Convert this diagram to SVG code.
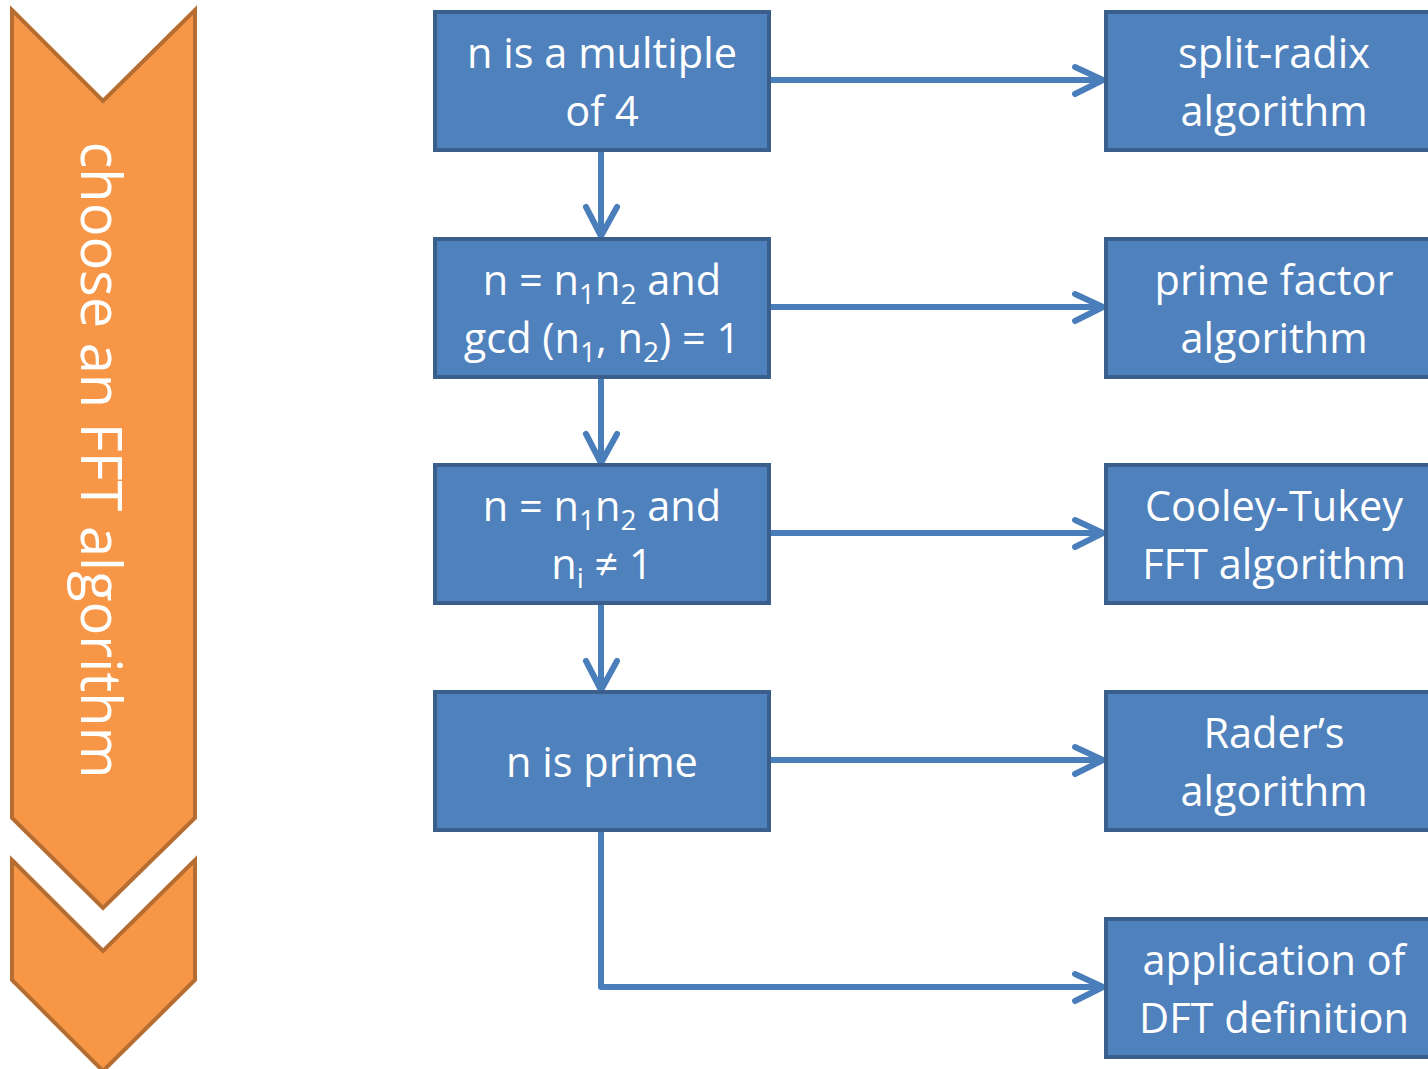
<svg xmlns="http://www.w3.org/2000/svg" width="1428" height="1069" viewBox="0 0 1428 1069">
<defs>
<style>
.box{fill:#4F81BD;stroke:#3A5F8C;stroke-width:4}
.t{font-family:"Open Sans","Noto Sans",sans-serif;font-size:41.5px;fill:#fff;text-anchor:middle}
.sub{font-size:28px}
.c{fill:none;stroke:#4A7EBB;stroke-width:6;stroke-linecap:round;stroke-linejoin:round}
.chev{fill:#F79646;stroke:#B66D31;stroke-width:4}
</style>
</defs>
<rect width="1428" height="1069" fill="#fff"/>
<g id="chevron">
<polygon class="chev" points="12,10 103,101 195,10 195,818 103,908 12,818"/>
<polygon class="chev" points="12,860 103,951 195,860 195,980 103,1071 12,980"/>
<text class="t" style="font-size:56px" transform="translate(100,460) rotate(90)" y="19">choose an FFT algorithm</text>
</g>
<g id="connectors">
<path class="c" d="M770,80 H1103 M1075,67 L1103,80 L1075,94"/>
<path class="c" d="M770,307 H1103 M1075,294 L1103,307 L1075,321"/>
<path class="c" d="M770,533 H1103 M1075,520 L1103,533 L1075,547"/>
<path class="c" d="M770,760 H1103 M1075,747 L1103,760 L1075,774"/>
<path class="c" d="M601,830 V987 H1103 M1075,974 L1103,987 L1075,1001"/>
<path class="c" d="M601,150 V236 M586,207 L601,236 L617,207"/>
<path class="c" d="M601,377 V463 M586,434 L601,463 L617,434"/>
<path class="c" d="M601,603 V690 M586,661 L601,690 L617,661"/>
</g>
<g id="n1">
<rect class="box" x="435" y="12" width="334" height="138"/>
<text class="t" x="602" y="68">n is a multiple</text>
<text class="t" x="602" y="126">of 4</text>
</g>
<g id="n2">
<rect class="box" x="435" y="239" width="334" height="138"/>
<text class="t" x="602" y="295">n = n<tspan class="sub" dy="9">1</tspan><tspan dy="-9">n</tspan><tspan class="sub" dy="9">2</tspan><tspan dy="-9"> and</tspan></text>
<text class="t" x="602" y="353">gcd (n<tspan class="sub" dy="9">1</tspan><tspan dy="-9">, n</tspan><tspan class="sub" dy="9">2</tspan><tspan dy="-9">) = 1</tspan></text>
</g>
<g id="n3">
<rect class="box" x="435" y="465" width="334" height="138"/>
<text class="t" x="602" y="521">n = n<tspan class="sub" dy="9">1</tspan><tspan dy="-9">n</tspan><tspan class="sub" dy="9">2</tspan><tspan dy="-9"> and</tspan></text>
<text class="t" x="602" y="579">n<tspan class="sub" dy="9">i</tspan><tspan dy="-9"> ≠ 1</tspan></text>
</g>
<g id="n4">
<rect class="box" x="435" y="692" width="334" height="138"/>
<text class="t" x="602" y="777">n is prime</text>
</g>
<g id="r1">
<rect class="box" x="1106" y="12" width="335" height="138"/>
<text class="t" x="1274" y="68">split-radix</text>
<text class="t" x="1274" y="126">algorithm</text>
</g>
<g id="r2">
<rect class="box" x="1106" y="239" width="335" height="138"/>
<text class="t" x="1274" y="295">prime factor</text>
<text class="t" x="1274" y="353">algorithm</text>
</g>
<g id="r3">
<rect class="box" x="1106" y="465" width="335" height="138"/>
<text class="t" x="1274" y="521">Cooley-Tukey</text>
<text class="t" x="1274" y="579">FFT algorithm</text>
</g>
<g id="r4">
<rect class="box" x="1106" y="692" width="335" height="138"/>
<text class="t" x="1274" y="748">Rader’s</text>
<text class="t" x="1274" y="806">algorithm</text>
</g>
<g id="r5">
<rect class="box" x="1106" y="919" width="335" height="138"/>
<text class="t" x="1274" y="975">application of</text>
<text class="t" x="1274" y="1033">DFT definition</text>
</g>
</svg>
